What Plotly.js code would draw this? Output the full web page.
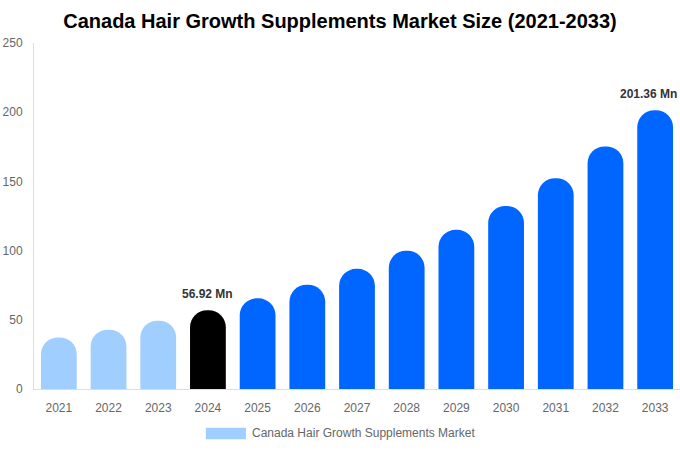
<!DOCTYPE html>
<html>
<head>
<meta charset="utf-8">
<script src="https://cdn.plot.ly/plotly-3.0.1.min.js"></script>
<style>
  html, body { margin: 0; padding: 0; background: #fff; overflow: hidden; }
  #chart { width: 680px; height: 450px; }
</style>
</head>
<body>
<div id="chart"></div>
<script>
var years = ['2021', '2022', '2023', '2024', '2025', '2026', '2027',
             '2028', '2029', '2030', '2031', '2032', '2033'];

var marketSize = [37.3, 42.9, 49.4, 56.92, 65.5, 75.4, 86.8,
                  99.9, 115.0, 132.3, 152.3, 175.3, 201.36];

var barColors = ['#a0cfff', '#a0cfff', '#a0cfff', '#000000',
                 '#0066ff', '#0066ff', '#0066ff', '#0066ff', '#0066ff',
                 '#0066ff', '#0066ff', '#0066ff', '#0066ff'];

var labelledYears = ['2024', '2033'];

var seriesName = 'Canada Hair Growth Supplements Market';

var trace = {
  x: years,
  y: marketSize,
  type: 'bar',
  name: seriesName,
  marker: { color: barColors },
  hoverinfo: 'x+y'
};

// on a category axis the annotation x is the category index
var annotations = labelledYears.map(function (yr) {
  var i = years.indexOf(yr);
  var v = marketSize[i];
  return {
    x: i,
    y: v,
    xref: 'x',
    yref: 'y',
    text: '<b>' + v.toFixed(2) + ' Mn</b>',
    showarrow: false,
    xanchor: 'center',
    yanchor: 'bottom',
    yshift: 7,
    // last label would run off the right edge
    xshift: i === years.length - 1 ? -7 : 0,
    font: { family: 'Liberation Sans, Arial', size: 12, color: '#333333' }
  };
});

// fake legend: wide swatch + label under the plot
annotations.push({
  xref: 'paper',
  yref: 'paper',
  x: 0.334,
  y: -0.127,
  xanchor: 'left',
  yanchor: 'middle',
  text: seriesName,
  showarrow: false,
  font: { family: 'Liberation Sans, Arial', size: 12, color: '#666666' }
});

var layout = {
  width: 680,
  height: 450,
  paper_bgcolor: '#ffffff',
  plot_bgcolor: '#ffffff',
  showlegend: false,
  bargap: 0.28,
  barcornerradius: '50%',
  margin: { l: 34, r: 0, t: 43, b: 61, pad: 0, autoexpand: false },
  title: {
    text: '<b>Canada Hair Growth Supplements Market Size (2021-2033)</b>',
    x: 0.5,
    xanchor: 'center',
    y: 0.953,
    yanchor: 'middle',
    font: { family: 'Liberation Sans, Arial', size: 20, color: '#000000' }
  },
  xaxis: {
    type: 'category',
    range: [-0.5, 12.5],
    showgrid: false,
    zeroline: false,
    showline: true,
    linecolor: '#dddddd',
    linewidth: 1,
    ticks: '',
    ticklabelstandoff: 8,
    tickfont: { family: 'Liberation Sans, Arial', size: 12, color: '#666666' }
  },
  yaxis: {
    range: [0, 250],
    dtick: 50,
    showgrid: false,
    zeroline: false,
    showline: true,
    linecolor: '#dddddd',
    linewidth: 1,
    ticks: '',
    ticklabelstandoff: 8,
    tickfont: { family: 'Liberation Sans, Arial', size: 12, color: '#666666' }
  },
  shapes: [{
    type: 'rect',
    xref: 'paper',
    yref: 'paper',
    x0: 0.266, x1: 0.328,
    y0: -0.145, y1: -0.112,
    fillcolor: '#a0cfff',
    line: { width: 0 }
  }],
  annotations: annotations
};

Plotly.newPlot('chart', [trace], layout, { displayModeBar: false, responsive: false });
</script>
</body>
</html>
